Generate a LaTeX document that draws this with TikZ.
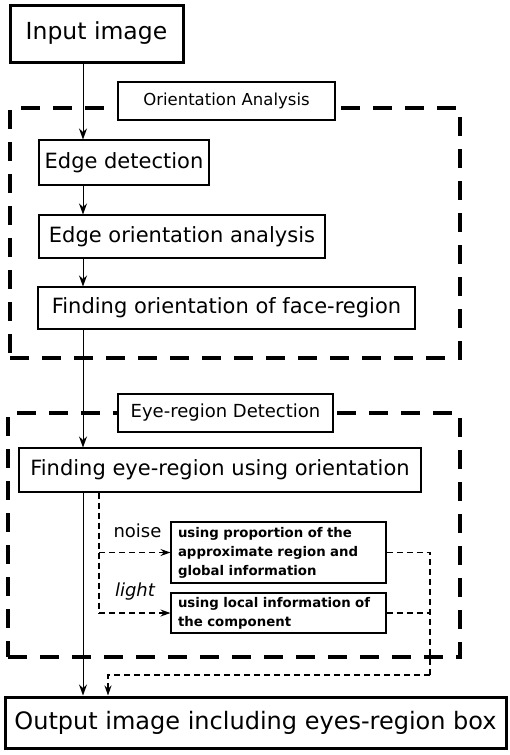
\documentclass[tikz,border=0pt]{standalone}
\usepackage{fontspec}
\setmainfont{DejaVu Sans}
\usetikzlibrary{positioning, arrows.meta}
\tikzset{
every picture/.style={x=1pt, y=-1pt},
stepbox/.style={draw, line width=1.1pt, inner sep=0pt, font=\fontsize{21}{24}\selectfont},
endbox/.style={draw, line width=3pt, inner sep=0pt},
titlebox/.style={draw, fill=white, line width=2.4pt, inner sep=0pt},
smallbox/.style={draw, line width=1.1pt, inner sep=0pt, inner xsep=7pt, font=\bfseries\fontsize{13.3}{19}\selectfont, align=left},
frame/.style={draw, line width=3.6pt, dash pattern=on 19pt off 13pt, inner sep=0pt},
flow/.style={line width=1pt, -{Stealth[length=11pt,width=8pt]}},
branch/.style={line width=1.2pt, dash pattern=on 6pt off 4pt},
tip/.style={-{Stealth[length=10pt,width=7pt]}},
}

\begin{document}
\begin{tikzpicture}
    \useasboundingbox (0,0) rectangle (509,755);

    % dashed frames
    \node[frame, minimum width=450, minimum height=250] (oaframe) at (235,233) { };
    \node[frame, minimum width=452, minimum height=244] (erframe) at (234,535) { };

    % columns for the connectors
    \coordinate (spine) at (83,0);
    \coordinate (fork) at (99,0);
    \coordinate (back) at (430,0);
    \coordinate (merge) at (108,675);

    % nodes
    \node[endbox, minimum width=173, minimum height=57, font=\fontsize{23.5}{26}\selectfont] (input) at (96.5,33.5) {Input image};

    \node[titlebox, minimum width=217, minimum height=38, font=\fontsize{16.5}{19}\selectfont] (oatitle) at (226.5,101) {Orientation Analysis};
    \node[stepbox, minimum width=170, minimum height=45] (edge) at (124,162.5) {Edge detection};
    \node[stepbox, minimum width=286, minimum height=43] (edgeor) at (182,236.5) {Edge orientation analysis};
    \node[stepbox, minimum width=377, minimum height=42] (faceor) at (226.5,308) {Finding orientation of face-region};

    \node[titlebox, minimum width=215, minimum height=38, font=\fontsize{18}{21}\selectfont] (ertitle) at (225.5,413) {Eye-region Detection};
    \node[stepbox, minimum width=402, minimum height=44] (eyefind) at (220,470) {Finding eye-region using orientation};

    \node[smallbox, minimum width=215, minimum height=61, text width=201] (noisebox) at (278.5,552.5) {using proportion of the\\approximate region and\\global information};
    \node[smallbox, minimum width=215, minimum height=40, text width=201] (lightbox) at (278.5,613) {using local information of\\the component};

    \node[font=\fontsize{18}{20}\selectfont] (noise) at (137.5,531) {noise};
    \node[font=\itshape\fontsize{18}{20}\selectfont] (light) at (135,592) {light};

    \node[endbox, minimum width=501, minimum height=51, font=\fontsize{24}{27}\selectfont] (output) at (255.5,722.5) {Output image including eyes-region box};

    % main flow
    \draw[flow] (input.south -| spine)--(edge.north -| spine);
    \draw[flow] (edge.south -| spine)--(edgeor.north -| spine);
    \draw[flow] (edgeor.south -| spine)--(faceor.north -| spine);
    \draw[flow] (faceor.south -| spine)--(eyefind.north -| spine);
    \draw[flow] (eyefind.south -| spine)--(output.north -| spine);

    % dashed branches
    \draw[branch] (eyefind.south -| fork) |- (lightbox.west -| fork);
    \draw[branch, tip] (noisebox.west -| fork) -- (noisebox.west);
    \draw[branch, tip] (lightbox.west -| fork) -- (lightbox.west);
    \draw[branch] (noisebox.east) -| (back |- merge);
    \draw[branch] (lightbox.east) -- (back |- lightbox.east);
    \draw[branch, tip] (back |- merge) -- (merge) -- (output.north -| merge);

\end{tikzpicture}
\end{document}
